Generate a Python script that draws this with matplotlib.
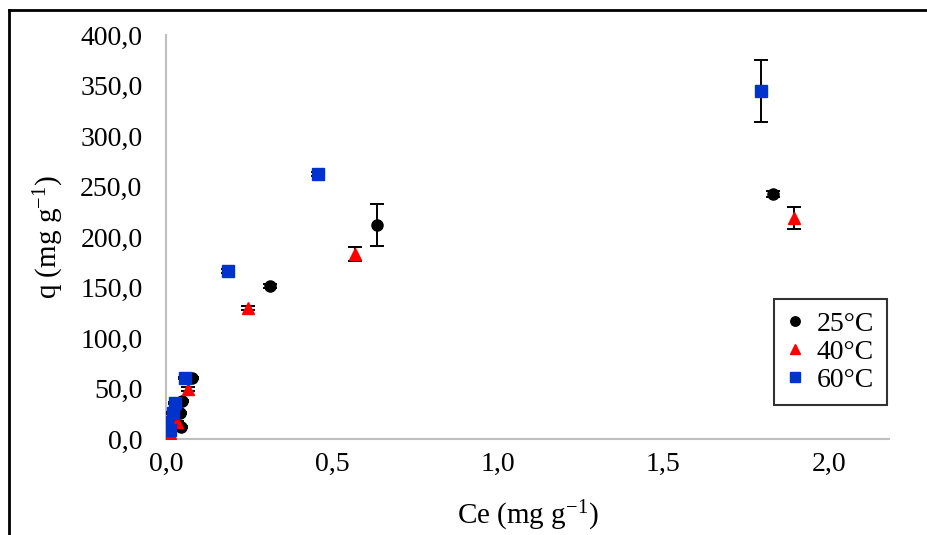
import matplotlib
matplotlib.use("Agg")
import matplotlib.pyplot as plt
from matplotlib.lines import Line2D
from matplotlib.ticker import FuncFormatter

plt.rcParams['font.family'] = ['Liberation Serif', 'DejaVu Serif']
plt.rcParams['mathtext.fontset'] = 'custom'
plt.rcParams['mathtext.rm'] = 'Liberation Serif'
plt.rcParams['mathtext.it'] = 'Liberation Serif:italic'
plt.rcParams['mathtext.default'] = 'rm'

# Equilibrium concentration (Ce) vs adsorbed amount (q) at three temperatures
ce_25 = [0.045, 0.042, 0.048, 0.079, 0.314, 0.637, 1.83]
q_25 = [12, 25.5, 37.5, 60, 151.5, 212, 243]
err_25 = [1, 1, 1, 1, 2, 20.5, 3]

ce_40 = [0.012, 0.032, 0.066, 0.248, 0.571, 1.894]
q_40 = [6, 17, 49.5, 129.5, 183, 219]
err_40 = [1, 1, 2, 2, 7, 11]

ce_60 = [0.002, 0.012, 0.02, 0.027, 0.057, 0.187, 0.459, 1.795]
q_60 = [17, 9, 26, 36, 60.5, 166, 262, 344.5]
err_60 = [1, 1, 1, 1, 1, 2, 2, 31]

labels = ['25°C', '40°C', '60°C']
x_ticks = [0.0, 0.5, 1.0, 1.5, 2.0]
y_ticks = [0, 50, 100, 150, 200, 250, 300, 350, 400]

fig = plt.figure(figsize=(9.27, 5.35), dpi=100)
ax = fig.add_axes([166 / 927, 96 / 535, 723 / 927, 404 / 535])

series = [
    (ce_25, q_25, err_25, 'o', 'black', 8),
    (ce_40, q_40, err_40, '^', '#ff0000', 9),
    (ce_60, q_60, err_60, 's', '#0033cc', 8),
]
for (x, y, e, m, c, ms), lab in zip(series, labels):
    ax.errorbar(x, y, yerr=e, fmt=m, color=c, mec=c, ms=ms,
                ecolor='black', elinewidth=1.4, capsize=5, capthick=1.4,
                label=lab, zorder=3)

ax.set_xlim(0, 2.18)
ax.set_ylim(0, 400)
ax.set_xticks(x_ticks)
ax.set_yticks(y_ticks)
comma = FuncFormatter(lambda v, p: f"{v:.1f}".replace('.', ','))
ax.xaxis.set_major_formatter(comma)
ax.yaxis.set_major_formatter(comma)
ax.tick_params(axis='both', length=0, labelsize=20)
ax.tick_params(axis='y', pad=17)
ax.tick_params(axis='x', pad=9)

for s in ['top', 'right']:
    ax.spines[s].set_visible(False)
for s in ['left', 'bottom']:
    ax.spines[s].set_color('#bfbfbf')
    ax.spines[s].set_linewidth(1.5)

ax.set_xlabel('Ce (mg g$^{-1}$)', fontsize=21, labelpad=16)
ax.set_ylabel('q (mg g$^{-1}$)', fontsize=21, labelpad=10)

handles = [Line2D([], [], marker=m, color=c, ls='none', ms=ms * 0.85)
           for (_, _, _, m, c, ms) in series]
leg = ax.legend(handles, labels, loc='lower right',
                bbox_to_anchor=(0.997, 0.083), fontsize=20, frameon=True,
                fancybox=False, edgecolor='black', handlelength=0.6,
                handletextpad=0.5, borderpad=0.45, labelspacing=0.1,
                borderaxespad=0)
leg.get_frame().set_linewidth(1.5)

# outer frame (top and left edges)
fig.add_artist(Line2D([9 / 927, 1], [1 - 10 / 535, 1 - 10 / 535],
                      color='black', lw=2, transform=fig.transFigure))
fig.add_artist(Line2D([9 / 927, 9 / 927], [0, 1 - 10 / 535],
                      color='black', lw=2, transform=fig.transFigure))

fig.savefig('out.png', dpi=100)
